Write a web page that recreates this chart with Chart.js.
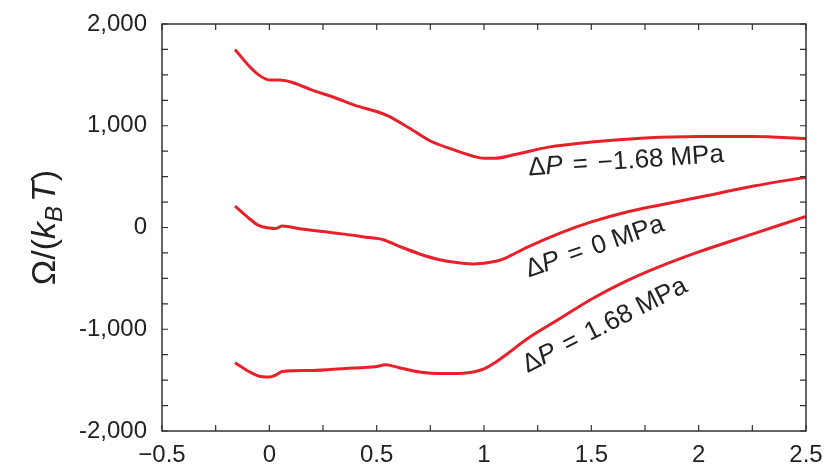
<!DOCTYPE html>
<html>
<head>
<meta charset="utf-8">
<script src="https://cdn.jsdelivr.net/npm/chart.js@4.4.1/dist/chart.umd.min.js"></script>
<style>
  html, body { margin: 0; padding: 0; background: #fff; }
  #wrap { width: 828px; height: 472px; position: relative; }
</style>
</head>
<body>
<div id="wrap"><canvas id="myChart"></canvas></div>
<script>
// === DATA ===
// ΔP = -1.68 MPa
const xNeg = [-0.16, -0.1, -0.05, 0.0, 0.05, 0.1, 0.2, 0.3, 0.4, 0.5, 0.55, 0.65, 0.75, 0.85, 0.95, 1.0, 1.05, 1.15, 1.3, 1.5, 1.75, 2.0, 2.25, 2.5];
const yNeg = [1750, 1600, 1500, 1450, 1450, 1430, 1350, 1280, 1200, 1140, 1100, 980, 850, 770, 700, 680, 680, 720, 790, 840, 880, 895, 895, 875];

// ΔP = 0 MPa
const xZero = [-0.16, -0.1, -0.05, 0.0, 0.03, 0.06, 0.15, 0.25, 0.35, 0.45, 0.53, 0.6, 0.7, 0.8, 0.9, 0.95, 1.05, 1.1, 1.2, 1.36, 1.5, 1.67, 1.82, 2.0, 2.25, 2.5];
const yZero = [210, 100, 20, -5, -10, 15, -15, -40, -65, -95, -120, -180, -260, -320, -352, -358, -335, -300, -195, -50, 55, 155, 222, 297, 405, 495];

// ΔP = 1.68 MPa
const xPos = [-0.16, -0.1, -0.05, 0.0, 0.03, 0.06, 0.2, 0.35, 0.5, 0.54, 0.6, 0.7, 0.8, 0.9, 0.95, 1.0, 1.05, 1.1, 1.2, 1.35, 1.5, 1.65, 1.8, 2.0, 2.25, 2.5];
const yPos = [-1330, -1410, -1460, -1470, -1450, -1415, -1405, -1385, -1365, -1350, -1375, -1420, -1435, -1432, -1420, -1390, -1330, -1255, -1095, -900, -705, -540, -400, -240, -65, 110];

const xTicks = [-0.5, 0, 0.5, 1, 1.5, 2, 2.5];
const yTicks = [-2000, -1000, 0, 1000, 2000];

// Gabung x dan y jadi titik
function toPoints(xs, ys) {
  return xs.map((x, i) => ({ x: x, y: ys[i] }));
}

const RED = "#e8202a";
const FONT = "'Liberation Sans', Arial, sans-serif";

// Plugin: kotak + tick ke dalam di keempat sisi
const frameTicks = {
  id: "frameTicks",
  afterDatasetsDraw(chart) {
    const { ctx, chartArea: a, scales } = chart;
    const xs = scales.x, ys = scales.y;
    ctx.save();
    ctx.strokeStyle = "#333";
    ctx.lineWidth = 1.5;
    ctx.strokeRect(a.left, a.top, a.right - a.left, a.bottom - a.top);
    ctx.lineWidth = 1.2;
    const len = 6;
    ctx.beginPath();
    for (let v = -0.5; v <= 2.5001; v += 0.25) {
      const px = xs.getPixelForValue(v);
      ctx.moveTo(px, a.bottom); ctx.lineTo(px, a.bottom - len);
      ctx.moveTo(px, a.top); ctx.lineTo(px, a.top + len);
    }
    for (let v = -2000; v <= 2000; v += 250) {
      const py = ys.getPixelForValue(v);
      ctx.moveTo(a.left, py); ctx.lineTo(a.left + len, py);
      ctx.moveTo(a.right, py); ctx.lineTo(a.right - len, py);
    }
    ctx.stroke();
    ctx.restore();
  }
};

// Gambar teks bersegmen (upright / italic), balikin lebar total
function drawSegments(ctx, segs, size, dryRun) {
  let x = 0;
  segs.forEach(s => {
    if (s.gap) { x += s.gap; return; }
    ctx.font = (s.italic ? "italic " : "") + (s.size || size) + "px " + FONT;
    if (!dryRun) ctx.fillText(s.t, x, s.dy || 0);
    x += ctx.measureText(s.t).width;
  });
  return x;
}

// Plugin: label kurva + judul sumbu y
const curveLabels = {
  id: "curveLabels",
  afterDraw(chart, args, opts) {
    const { ctx, scales } = chart;
    ctx.save();
    ctx.fillStyle = "#222";
    ctx.textBaseline = "alphabetic";
    ctx.textAlign = "left";
    opts.labels.forEach(l => {
      const px = scales.x.getPixelForValue(l.x);
      const py = scales.y.getPixelForValue(l.y);
      ctx.save();
      ctx.translate(px, py);
      ctx.rotate(l.angle * Math.PI / 180);
      drawSegments(ctx, [
        { t: "Δ" }, { t: "P", italic: true }, { gap: 10 },
        { t: "=" }, { gap: 10 }, { t: l.value }, { gap: 7 }, { t: "MPa" }
      ], 26);
      ctx.restore();
    });

    // judul sumbu y, di tengah area plot
    const title = [
      { t: "Ω/(" }, { t: "k", italic: true }, { t: "B", italic: true, size: 24, dy: 7 },
      { gap: 4 }, { t: "T", italic: true }, { t: ")" }
    ];
    const w = drawSegments(ctx, title, 34, true);
    const midY = (chart.chartArea.top + chart.chartArea.bottom) / 2;
    ctx.save();
    ctx.translate(55, midY + w / 2);
    ctx.rotate(-Math.PI / 2);
    drawSegments(ctx, title, 34);
    ctx.restore();
    ctx.restore();
  }
};

const ctx = document.getElementById("myChart");

new Chart(ctx, {
  type: "line",
  data: {
    datasets: [
      { label: "ΔP = −1.68 MPa", data: toPoints(xNeg, yNeg) },
      { label: "ΔP = 0 MPa", data: toPoints(xZero, yZero) },
      { label: "ΔP = 1.68 MPa", data: toPoints(xPos, yPos) },
    ].map(d => Object.assign(d, {
      borderColor: RED,
      backgroundColor: RED,
      borderWidth: 3,
      pointRadius: 0,
      fill: false,
      cubicInterpolationMode: "monotone",
    })),
  },
  options: {
    responsive: true,
    maintainAspectRatio: false,
    animation: false,
    layout: { padding: { top: 24, right: 22, left: 0, bottom: 0 } },
    scales: {
      x: {
        type: "linear",
        min: -0.5,
        max: 2.5,
        afterBuildTicks: s => { s.ticks = xTicks.map(v => ({ value: v })); },
        afterFit: s => { s.height = 41; s.paddingLeft = 0; s.paddingRight = 0; },
        grid: { display: false, drawTicks: false },
        border: { display: false },
        ticks: {
          padding: 10,
          color: "#222",
          font: { family: FONT, size: 24 },
          maxRotation: 0,
          callback: v => (v < 0 ? "\u2212" + Math.abs(v) : String(v)),
        },
      },
      y: {
        min: -2000,
        max: 2000,
        afterBuildTicks: s => { s.ticks = yTicks.map(v => ({ value: v })); },
        afterFit: s => { s.width = 162; s.paddingTop = 0; s.paddingBottom = 0; },
        grid: { display: false, drawTicks: false },
        border: { display: false },
        ticks: {
          padding: 15,
          color: "#222",
          font: { family: FONT, size: 24 },
          callback: v => v.toLocaleString("en-US"),
        },
      },
    },
    plugins: {
      legend: { display: false },
      tooltip: { enabled: false },
      curveLabels: {
        labels: [
          { x: 1.208, y: 511, angle: -4, value: "\u22121.68" },
          { x: 1.208, y: -492, angle: -19, value: "0" },
          { x: 1.203, y: -1430, angle: -27, value: "1.68" },
        ],
      },
    },
  },
  plugins: [frameTicks, curveLabels],
});
</script>
</body>
</html>
